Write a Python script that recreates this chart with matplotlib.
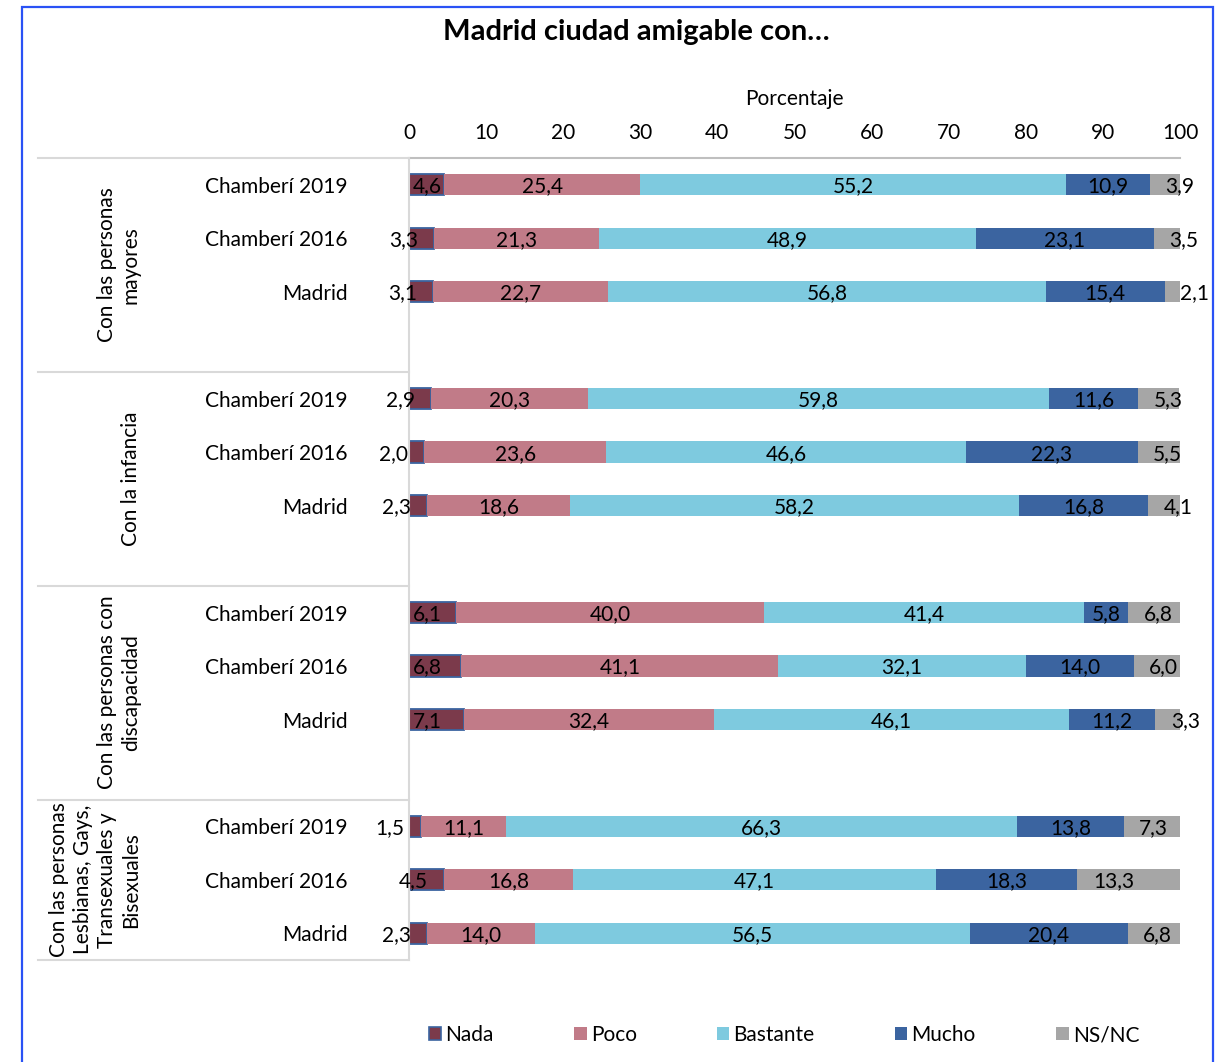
import matplotlib
matplotlib.use("Agg")
import matplotlib.pyplot as plt
from matplotlib.transforms import blended_transform_factory
from matplotlib.patches import Rectangle, Patch
from matplotlib.lines import Line2D

plt.rcParams['font.family'] = ['Lato', 'DejaVu Sans']

W, H = 1230, 1062

title = "Madrid ciudad amigable con…"
series = ["Nada", "Poco", "Bastante", "Mucho", "NS/NC"]
colors = ["#7b3a4b", "#c17b88", "#7ecadf", "#3b64a0", "#a6a6a6"]

groups = ["Con las personas\nmayores",
          "Con la infancia",
          "Con las personas con\ndiscapacidad",
          "Con las personas\nLesbianas, Gays,\nTransexuales y\nBisexuales"]
rows = ["Chamberí 2019", "Chamberí 2016", "Madrid"]

nada = [[4.6, 3.3, 3.1], [2.9, 2.0, 2.3], [6.1, 6.8, 7.1], [1.5, 4.5, 2.3]]
poco = [[25.4, 21.3, 22.7], [20.3, 23.6, 18.6], [40.0, 41.1, 32.4], [11.1, 16.8, 14.0]]
bastante = [[55.2, 48.9, 56.8], [59.8, 46.6, 58.2], [41.4, 32.1, 46.1], [66.3, 47.1, 56.5]]
mucho = [[10.9, 23.1, 15.4], [11.6, 22.3, 16.8], [5.8, 14.0, 11.2], [13.8, 18.3, 20.4]]
nsnc = [[3.9, 3.5, 2.1], [5.3, 5.5, 4.1], [6.8, 6.0, 3.3], [7.3, 13.3, 6.8]]

xticks = [0, 10, 20, 30, 40, 50, 60, 70, 80, 90, 100]

def fmt(v):
    return f"{v:.1f}".replace(".", ",")

fig = plt.figure(figsize=(W / 100, H / 100), dpi=100)
ax = fig.add_axes([409 / W, 1 - 960 / H, (1180 - 409) / W, (960 - 158) / H])

data = [nada, poco, bastante, mucho, nsnc]
FS = 15

for g in range(len(groups)):
    for r in range(len(rows)):
        y = g * 4 + r
        left = 0.0
        for s in range(len(series)):
            v = data[s][g][r]
            if s == 0:
                ax.barh(y, v, left=left, height=0.4, color=colors[s],
                        edgecolor="#3b64a0", linewidth=1.3)
            else:
                ax.barh(y, v, left=left, height=0.4, color=colors[s], linewidth=0)
            yt = y + 0.03
            if s == 0:
                if v >= 4.55:
                    ax.text(left + 0.5, yt, fmt(v), ha="left", va="center", fontsize=FS)
                else:
                    ax.text(v - 2.1, yt, fmt(v), ha="right", va="center", fontsize=FS)
            elif s == 4:
                ax.text(left + 2.0, yt, fmt(v), ha="left", va="center", fontsize=FS)
            else:
                ax.text(left + v / 2, yt, fmt(v), ha="center", va="center", fontsize=FS)
            left += v

ax.set_xlim(0, 100)
ax.set_ylim(14.5, -0.5)
ax.set_yticks([])
ax.xaxis.tick_top()
ax.xaxis.set_label_position("top")
ax.set_xticks(xticks)
ax.set_xticklabels([str(t) for t in xticks], fontsize=FS)
ax.tick_params(axis="x", length=0, pad=11)
ax.set_xlabel("Porcentaje", fontsize=FS, labelpad=13)
for sp in ["right", "bottom"]:
    ax.spines[sp].set_visible(False)
ax.spines["top"].set_color("#bfbfbf")
ax.spines["top"].set_linewidth(1.5)
ax.spines["left"].set_color("#d9d9d9")
ax.spines["left"].set_linewidth(1.5)

bt = blended_transform_factory(fig.transFigure, ax.transData)
for yb in [-0.5, 3.5, 7.5, 11.5, 14.5]:
    fig.add_artist(Line2D([38 / W, 409 / W], [yb, yb], transform=bt,
                          color="#d9d9d9", lw=1.5))

for g in range(len(groups)):
    for r in range(len(rows)):
        y = g * 4 + r + 0.04
        ax.text(348 / W, y, rows[r], transform=bt, ha="right", va="center", fontsize=FS)

group_centers = [1.5, 5.5, 9.5, 13.0]
for g, lab in enumerate(groups):
    ax.text(141 / W, group_centers[g], lab, transform=bt, rotation=90,
            ha="right", va="center", multialignment="center", fontsize=FS,
            linespacing=1.25)

fig.text(636 / W, 1 - 32 / H, title, ha="center", va="center",
         fontsize=21, fontweight="bold")

fig.add_artist(Rectangle((22 / W, -0.1), (1213 - 22) / W, 1.1 - 7 / H,
                         transform=fig.transFigure, fill=False,
                         edgecolor="#2a52f5", lw=1.6))

handles = []
for s, name in enumerate(series):
    if s == 0:
        handles.append(Patch(facecolor=colors[s], edgecolor="#3b64a0", lw=1.2, label=name))
    else:
        handles.append(Patch(facecolor=colors[s], edgecolor="none", label=name))
fig.legend(handles=handles, loc="center", bbox_to_anchor=(784 / W, 1 - 1035 / H),
           ncol=5, frameon=False, fontsize=FS, handlelength=0.6, handleheight=0.6,
           handletextpad=0.2, columnspacing=3.85)

fig.savefig("out.png", dpi=100)
